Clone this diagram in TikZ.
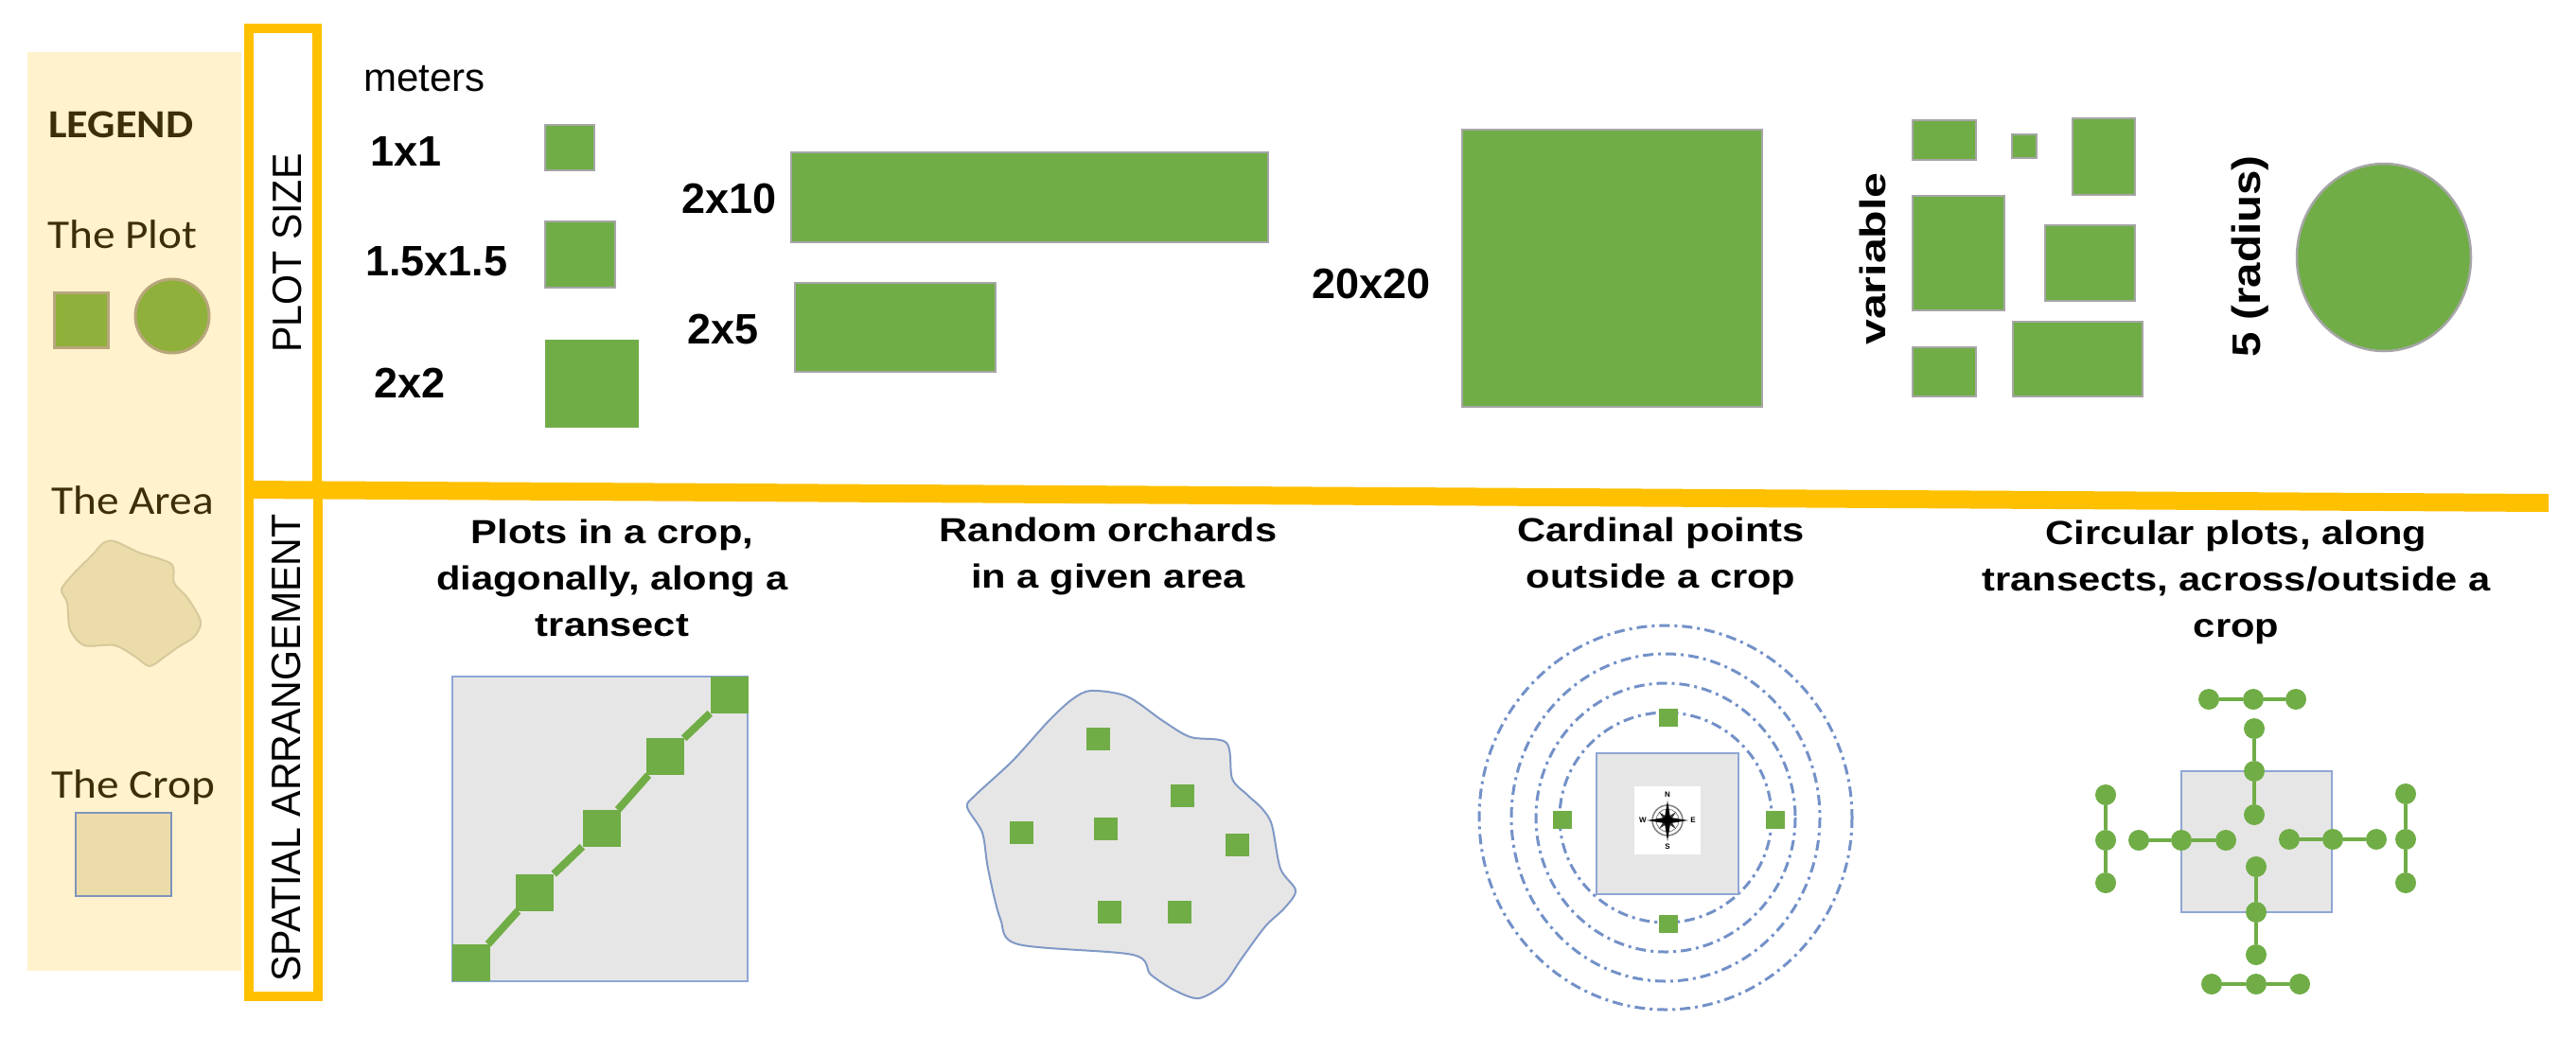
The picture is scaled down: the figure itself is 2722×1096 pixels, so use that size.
\documentclass[tikz,border=0pt]{standalone}
\usepackage{fontspec}
\usepackage{graphicx}
\setmainfont{Liberation Sans}
\newfontfamily\hdfont[FakeStretch=1.18]{Liberation Sans}
\newfontfamily\lgfont[FakeStretch=1.1]{Carlito}
\newcommand{\hdr}[1]{\begin{tabular}[t]{@{}c@{}}#1\end{tabular}}
\definecolor{orangeY}{HTML}{FFC000}
\definecolor{legbg}{HTML}{FFF2CC}
\definecolor{legtext}{HTML}{3C2E06}
\definecolor{pgreen}{HTML}{70AD47}
\definecolor{pgray}{HTML}{A6A6A6}
\definecolor{lgreen}{HTML}{8FB03A}
\definecolor{lgstroke}{HTML}{B8A67C}
\definecolor{areatan}{HTML}{EBDCA9}
\definecolor{tanstroke}{HTML}{D8C99C}
\definecolor{cropgray}{HTML}{E7E6E6}
\definecolor{cropblue}{HTML}{8EA6D4}
\definecolor{legcropline}{HTML}{7E93BD}
\definecolor{ringblue}{HTML}{7391C8}
\definecolor{blobline}{HTML}{8099C6}
\tikzset{
  ofr/.style={draw=orangeY, line width=10pt},
  prect/.style={fill=pgreen, draw=pgray, line width=2.5pt},
  lbl/.style={inner sep=0pt, anchor=base west, font=\bfseries\fontsize{45}{54}\selectfont},
  hdrtxt/.style={inner sep=0pt, anchor=base, font=\hdfont\bfseries\fontsize{35.3}{49}\selectfont},
  vtxt/.style={inner sep=0pt, anchor=base west, rotate=90},
  lgt/.style={inner sep=0pt, anchor=base west, text=legtext, font=\lgfont\fontsize{43}{50}\selectfont},
  cropbox/.style={fill=cropgray, draw=cropblue, line width=2pt},
  osq/.style={rectangle, fill=pgreen, minimum width=25pt, minimum height=24pt, inner sep=0pt},
  tsq/.style={rectangle, fill=pgreen, minimum width=40pt, minimum height=39pt, inner sep=0pt},
  csq/.style={rectangle, fill=pgreen, minimum width=20pt, minimum height=19pt, inner sep=0pt},
  cdot/.style={circle, fill=pgreen, minimum size=22pt, inner sep=0pt},
  plink/.style={draw=pgreen, line width=4pt},
  ring/.style={draw=ringblue, line width=3pt, dash pattern=on 11pt off 5pt on 3pt off 5pt},
  cmp/.style={inner sep=0pt, font=\bfseries\fontsize{8}{9}\selectfont},
}
\begin{document}
\begin{tikzpicture}[x=1pt, y=-1pt]
\useasboundingbox (0,0) rectangle (2722,1096);
\fill[white] (0,0) rectangle (2722,1096);

% ---------------- legend ----------------
\fill[legbg] (29,55) rectangle (255,1026);
\node[lgt, font=\lgfont\bfseries\fontsize{42}{50}\selectfont] (lg) at (51,145) {LEGEND};
\node[lgt] (lplot) at (50,262) {The Plot};
\draw[fill=lgreen, draw=lgstroke, line width=3pt] (57,309) rectangle (114,367);
\draw[fill=lgreen, draw=lgstroke, line width=3pt] (182,334) circle (39);
\node[lgt] (larea) at (54,543) {The Area};
\draw[fill=areatan, draw=tanstroke, line width=2pt] plot[smooth cycle, tension=0.5] coordinates {
  (121,572) (147,584) (181,596) (184,616) (199,633) (212,657) (205,673) (188,684)
  (174,694) (158,704) (143,694) (121,682) (89,682) (74,665) (71,637) (65,623)
  (78,606) (98,586) (109,574)};
\node[lgt] (lcrop) at (54,843) {The Crop};
\draw[fill=areatan, draw=legcropline, line width=2.5pt] (80,859) rectangle (181,947);

% ---------------- orange frames ----------------
\fill[orangeY] (258,508) -- (2693,522) -- (2693,541) -- (258,527) -- cycle;
\draw[ofr] (263,30) rectangle (335,518);
\draw[ofr] (263,518) rectangle (336,1053);
\node[vtxt, font=\fontsize{43.3}{50}\selectfont] (ps) at (318,373) {\scalebox{0.95}[1]{PLOT SIZE}};
\node[vtxt, font=\fontsize{43.3}{50}\selectfont] (sa) at (317,1038) {\scalebox{0.95}[1]{SPATIAL ARRANGEMENT}};

% ---------------- plot sizes ----------------
\node[inner sep=0pt, anchor=base west, font=\fontsize{42}{50}\selectfont] (met) at (384,96) {meters};
\node[lbl] (l11) at (391,175) {1x1};
\node[lbl] (l15) at (386,291) {1.5x1.5};
\node[lbl] (l22) at (395,420) {2x2};
\node[lbl] (l210) at (720,225) {2x10};
\node[lbl] (l25) at (726,363) {2x5};
\node[lbl] (l2020) at (1386,315) {20x20};
\draw[prect] (576,132) rectangle (628,180);
\draw[prect] (576,234) rectangle (650,304);
\fill[pgreen] (576,359) rectangle (675,452);
\draw[prect] (836,161) rectangle (1340,256);
\draw[prect] (840,299) rectangle (1052,393);
\draw[prect] (1545,137) rectangle (1862,430);
\node[vtxt, font=\bfseries\fontsize{38}{45}\selectfont] (var) at (1992,365) {\scalebox{1.27}[1]{variable}};
\draw[prect] (2021,127) rectangle (2088,169);
\draw[prect] (2126,142) rectangle (2152,167);
\draw[prect] (2190,125) rectangle (2256,206);
\draw[prect] (2021,207) rectangle (2118,328);
\draw[prect] (2161,238) rectangle (2256,318);
\draw[prect] (2021,367) rectangle (2088,419);
\draw[prect] (2127,340) rectangle (2264,419);
\node[vtxt, font=\bfseries\fontsize{42}{50}\selectfont] (rad) at (2388,378) {\scalebox{1.13}[1]{5 (radius)}};
\draw[prect] (2519,272) ellipse [x radius=92, y radius=99];

% ---------------- headers ----------------
\node[hdrtxt] (h1) at (647,574) {\hdr{Plots in a crop,\\diagonally, along a\\transect}};
\node[hdrtxt] (h2) at (1171,572) {\hdr{Random orchards\\in a given area}};
\node[hdrtxt] (h3) at (1755,572) {\hdr{Cardinal points\\outside a crop}};
\node[hdrtxt] (h4) at (2363,575) {\hdr{Circular plots, along\\transects, across/outside a\\crop}};

% ---------------- transect ----------------
\draw[cropbox] (478,715) rectangle (790,1037);
\node[tsq] (t1) at (498,1017.5) {};
\node[tsq] (t2) at (565,943) {};
\node[tsq] (t3) at (635.5,875.5) {};
\node[tsq] (t4) at (702.5,799.5) {};
\node[tsq] (t5) at (770.5,734.5) {};
\draw[draw=pgreen, line width=8pt] (t1) -- (t2);
\draw[draw=pgreen, line width=8pt] (t2) -- (t3);
\draw[draw=pgreen, line width=8pt] (t3) -- (t4);
\draw[draw=pgreen, line width=8pt] (t4) -- (t5);

% ---------------- random orchards ----------------
\draw[fill=cropgray, draw=blobline, line width=2pt] plot[smooth cycle, tension=0.5] coordinates {
  (1153,730) (1191,736) (1229,762) (1258,779) (1296,785) (1302,823) (1318,840)
  (1334,855) (1344,872) (1353,918) (1369,941) (1357,960) (1337,979) (1312,1013)
  (1293,1040) (1267,1055) (1242,1047) (1216,1030) (1197,1009) (1076,998)
  (1057,971) (1044,918) (1038,880) (1022,853) (1031,840) (1070,804) (1108,762)
  (1133,739)};
\node[osq] (o1) at (1160,781) {};
\node[osq] (o2) at (1249.5,841) {};
\node[osq] (o3) at (1079,879.5) {};
\node[osq] (o4) at (1168.5,876) {};
\node[osq] (o5) at (1307,892.5) {};
\node[osq] (o6) at (1172,963.5) {};
\node[osq] (o7) at (1246,963.5) {};

% ---------------- cardinal points ----------------
\draw[ring] (1760,864) ellipse [x radius=197, y radius=203];
\draw[ring] (1760,864) ellipse [x radius=163, y radius=173];
\draw[ring] (1760,864) ellipse [x radius=137, y radius=142];
\draw[ring] (1760,864) ellipse [x radius=112, y radius=111];
\draw[cropbox] (1687,796) rectangle (1837,945);
\fill[white] (1727,831) rectangle (1797,903);
\draw[gray, line width=1.5pt] (1762,867) circle (16);
\draw[gray, line width=0.8pt] (1762,867) circle (12);
\fill[black!80] (1753,858) -- (1764,865) -- (1771,876) -- (1760,869) -- cycle;
\fill[black!80] (1771,858) -- (1764,869) -- (1753,876) -- (1760,865) -- cycle;
\fill[black] (1762,846) -- (1765,864) -- (1784,867) -- (1765,870) -- (1762,889) -- (1759,870) -- (1740,867) -- (1759,864) -- cycle;
\node[cmp] (cN) at (1762,840) {N};
\node[cmp] (cS) at (1762,895) {S};
\node[cmp] (cW) at (1736,867) {W};
\node[cmp] (cE) at (1789,867) {E};
\node[csq] (k1) at (1763,758) {};
\node[csq] (k2) at (1763,976) {};
\node[csq] (k3) at (1651,866) {};
\node[csq] (k4) at (1876,866) {};

% ---------------- circular plots ----------------
\draw[cropbox] (2305,815) rectangle (2464,964);
\node[cdot] (ta) at (2334,739) {};
\node[cdot] (tb) at (2381,739) {};
\node[cdot] (tc) at (2426,739) {};
\node[cdot] (va) at (2382,770) {};
\node[cdot] (vb) at (2382,815) {};
\node[cdot] (vc) at (2382,861) {};
\node[cdot] (wa) at (2384,916) {};
\node[cdot] (wb) at (2384,964) {};
\node[cdot] (wc) at (2384,1009) {};
\node[cdot] (ba) at (2337,1040) {};
\node[cdot] (bb) at (2384,1040) {};
\node[cdot] (bc) at (2430,1040) {};
\node[cdot] (la) at (2225,840) {};
\node[cdot] (lb) at (2225,888) {};
\node[cdot] (lc) at (2225,933) {};
\node[cdot] (ha) at (2260,888) {};
\node[cdot] (hb) at (2305,888) {};
\node[cdot] (hc) at (2352,888) {};
\node[cdot] (ra) at (2419,887) {};
\node[cdot] (rb) at (2465,887) {};
\node[cdot] (rc) at (2511,887) {};
\node[cdot] (sa1) at (2542,839) {};
\node[cdot] (sb1) at (2542,887) {};
\node[cdot] (sc1) at (2542,933) {};
\draw[plink] (ta) -- (tb); \draw[plink] (tb) -- (tc);
\draw[plink] (va) -- (vb); \draw[plink] (vb) -- (vc);
\draw[plink] (wa) -- (wb); \draw[plink] (wb) -- (wc);
\draw[plink] (ba) -- (bb); \draw[plink] (bb) -- (bc);
\draw[plink] (la) -- (lb); \draw[plink] (lb) -- (lc);
\draw[plink] (ha) -- (hb); \draw[plink] (hb) -- (hc);
\draw[plink] (ra) -- (rb); \draw[plink] (rb) -- (rc);
\draw[plink] (sa1) -- (sb1); \draw[plink] (sb1) -- (sc1);
\end{tikzpicture}
\end{document}
